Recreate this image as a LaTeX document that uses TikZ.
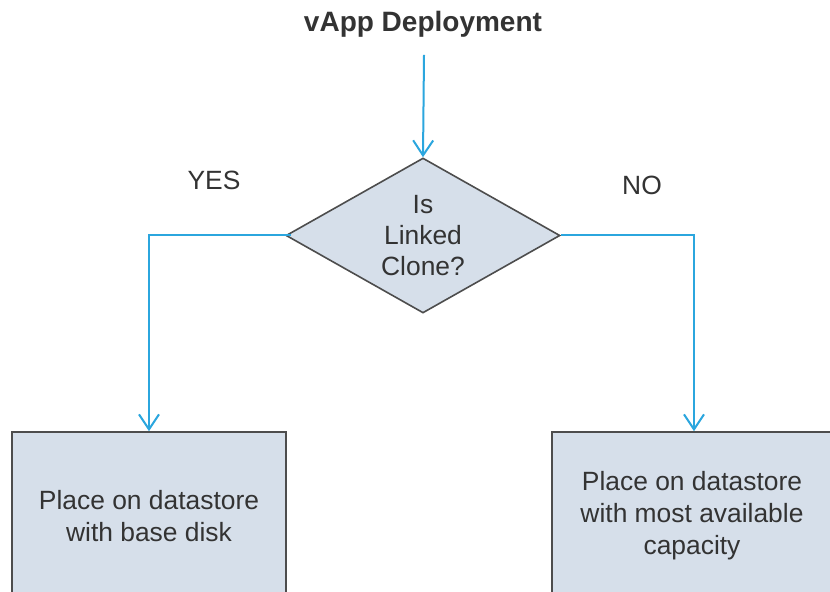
\documentclass[tikz,border=0pt]{standalone}
\usepackage{fontspec}
\setmainfont{Liberation Sans}
\usetikzlibrary{shapes.geometric,arrows.meta}
\definecolor{linkblue}{HTML}{2BA6DE}
\definecolor{boxfill}{HTML}{D6DFEA}
\definecolor{edgegray}{HTML}{4D4D4D}
\definecolor{txt}{HTML}{333333}
\tikzset{
  flow/.style={draw=linkblue, line width=1pt, -{Straight Barb[length=7.5pt,width=10pt,line width=1pt]}},
  decision/.style={diamond, aspect=1.77, draw=edgegray, fill=boxfill, line width=0.8pt, inner sep=0pt,
    minimum width=137pt, minimum height=77.5pt, align=center, text=txt,
    font=\fontsize{13.2}{15.5}\selectfont},
  actbox/.style={rectangle, draw=edgegray, fill=boxfill, line width=0.8pt, inner sep=0pt,
    minimum height=84pt, align=center, text=txt, font=\fontsize{13.2}{16}\selectfont},
  lbl/.style={text=txt, font=\fontsize{13.2}{16}\selectfont, anchor=base, inner sep=0pt},
}
\begin{document}
\begin{tikzpicture}[x=0.5pt, y=-0.5pt]
\useasboundingbox (0,0) rectangle (830,592);
\clip (0,0) rectangle (830,592);
\fill[white] (0,0) rectangle (830,592);
\node[anchor=base, inner sep=0pt, text=txt, font=\fontsize{14}{16}\selectfont\bfseries] (title) at (423,32) {vApp Deployment};
\coordinate (start) at (424,55);
\node[decision] (dec) at (423,235.5) {Is\\Linked\\Clone?};
\node[actbox, minimum width=137pt] (left) at (149,516) {Place on datastore\\with base disk};
\node[actbox, minimum width=140pt] (right) at (692,516) {Place on datastore\\with most available\\capacity};
\node[lbl] (yes) at (214,190) {YES};
\node[lbl] (no) at (642,195) {NO};
\draw[flow] (start) -- (dec.north);
\draw[flow, shorten <=-3pt] (dec.west) -| (left.north);
\draw[flow] (dec.east) -| ([xshift=1pt]right.north);
\end{tikzpicture}
\end{document}
